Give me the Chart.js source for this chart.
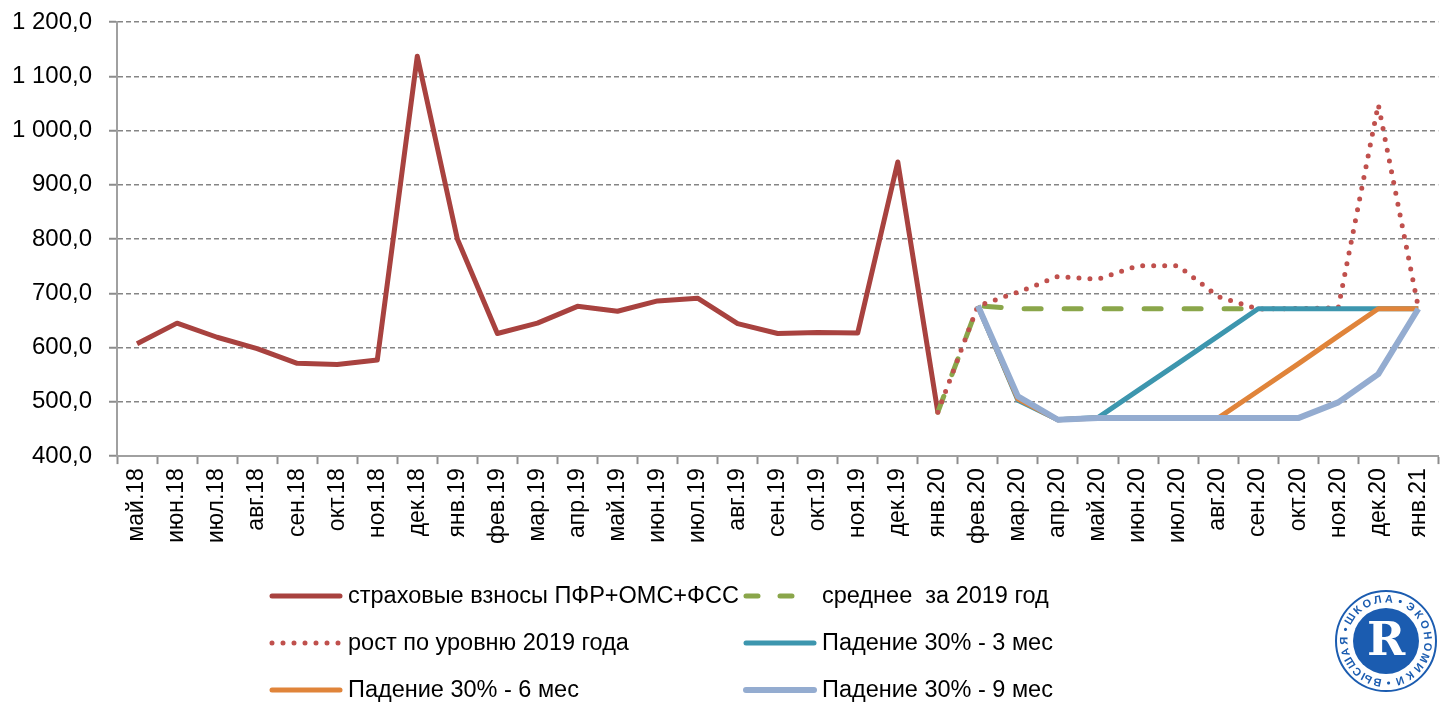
<!DOCTYPE html>
<html>
<head>
<meta charset="utf-8">
<script src="https://cdn.jsdelivr.net/npm/chart.js@4.4.1/dist/chart.umd.min.js"></script>
<style>
  html, body { margin: 0; padding: 0; background: #fff; overflow: hidden; }
  #wrap { width: 1450px; height: 704px; }
</style>
</head>
<body>
<div id="wrap"><canvas id="myChart" width="1450" height="704"></canvas></div>
<script>
// months on the x axis
const months = ["май.18","июн.18","июл.18","авг.18","сен.18","окт.18","ноя.18","дек.18",
  "янв.19","фев.19","мар.19","апр.19","май.19","июн.19","июл.19","авг.19","сен.19","окт.19","ноя.19","дек.19",
  "янв.20","фев.20","мар.20","апр.20","май.20","июн.20","июл.20","авг.20","сен.20","окт.20","ноя.20","дек.20",
  "янв.21"];

const gap = n => Array(n).fill(null);

// страховые взносы, факт (май.18 - янв.20)
const factValues = [607, 645, 619, 598, 571, 569, 577, 1137, 800, 626, 645, 676, 667, 686, 691, 644, 626, 628, 627, 942, 481];
// среднее за 2019 год (янв.20 - сен.20)
const avgValues = [481, 677, 671.5, 671.5, 671.5, 671.5, 671.5, 671.5, 671.5];
// рост по уровню 2019 года (янв.20 - янв.21)
const growthValues = [481, 677, 702, 731, 726, 751, 751, 694, 671, 672, 673, 1048, 674];
// сценарии падения (фев.20 - янв.21)
const drop3Values = [677, 503, 467, 471, 521, 571, 621, 671.5, 671.5, 671.5, 671.5, 671.5];
const drop6Values = [677, 505, 467, 470, 470, 470, 470, 520, 570, 621, 671.5, 671.5];
const drop9Values = [677, 510, 467, 470, 470, 470, 470, 470, 470, 499, 551, 671.5];

const yTicks = [400, 500, 600, 700, 800, 900, 1000, 1100, 1200];

function fmt(v) {
  let s = v.toFixed(1).replace(".", ",");
  let [i, d] = s.split(",");
  i = i.replace(/\B(?=(\d{3})+(?!\d))/g, " ");
  return i + "," + d;
}

// legend drawn in two columns like the original
const legendPlugin = {
  id: "twoColLegend",
  afterDraw(chart) {
    const ctx = chart.ctx;
    const cols = [270, 744];
    const rows = [596, 643, 690];
    chart.data.datasets.forEach((ds, i) => {
      const x = cols[i % 2], y = rows[Math.floor(i / 2)];
      ctx.save();
      ctx.strokeStyle = ds.borderColor;
      ctx.lineWidth = ds.borderWidth;
      ctx.lineCap = "round";
      ctx.setLineDash(ds.legendDash || []);
      ctx.beginPath();
      ctx.moveTo(x + 2, y);
      ctx.lineTo(x + 70, y);
      ctx.stroke();
      ctx.setLineDash([]);
      ctx.fillStyle = "#000";
      ctx.font = "23.5px 'Liberation Sans', Arial, sans-serif";
      ctx.textBaseline = "middle";
      ctx.fillText(ds.label, x + 78, y + 1);
      ctx.restore();
    });

    // HSE logo (approximation)
    const cx = 1386, cy = 641, r = 50;
    ctx.save();
    ctx.strokeStyle = "#1b5cb0";
    ctx.lineWidth = 2;
    ctx.beginPath(); ctx.arc(cx, cy, r, 0, Math.PI * 2); ctx.stroke();
    ctx.fillStyle = "#1b5cb0";
    ctx.beginPath(); ctx.arc(cx, cy, 33, 0, Math.PI * 2); ctx.fill();
    ctx.font = "bold 11px 'Liberation Sans', Arial, sans-serif";
    ctx.textAlign = "center";
    ctx.textBaseline = "middle";
    const txt = "ВЫСШАЯ•ШКОЛА•ЭКОНОМИКИ•";
    const chars = Array.from(txt);
    const start = 102 * Math.PI / 180;
    const step = (Math.PI * 2) / chars.length;
    chars.forEach((c, k) => {
      const a = start + k * step;
      ctx.save();
      ctx.translate(cx + Math.cos(a) * 41.5, cy + Math.sin(a) * 41.5);
      ctx.rotate(a + Math.PI / 2);
      ctx.fillText(c, 0, 0);
      ctx.restore();
    });
    ctx.fillStyle = "#fff";
    ctx.font = "bold 46px 'DejaVu Serif', serif";
    ctx.fillText("R", cx, cy + 2);
    ctx.restore();
  }
};

const myChart = document.getElementById("myChart").getContext("2d");
const insuranceChart = new Chart(myChart, {
  type: "line",
  data: {
    labels: months,
    datasets: [
      {
        label: "страховые взносы ПФР+ОМС+ФСС",
        data: factValues.concat(gap(12)),
        borderColor: "#a8423f",
        borderWidth: 5,
        order: 6
      },
      {
        label: "среднее  за 2019 год",
        data: gap(20).concat(avgValues, gap(4)),
        borderColor: "#8aa64a",
        borderWidth: 5,
        borderDash: [17, 23],
        borderCapStyle: "round",
        legendDash: [12, 22],
        order: 5
      },
      {
        label: "рост по уровню 2019 года",
        data: gap(20).concat(growthValues),
        borderColor: "#c0504d",
        borderWidth: 5,
        borderDash: [0, 11],
        borderCapStyle: "round",
        legendDash: [0, 11],
        order: 4
      },
      {
        label: "Падение 30% - 3 мес",
        data: gap(21).concat(drop3Values),
        borderColor: "#3d96ae",
        borderWidth: 5,
        order: 3
      },
      {
        label: "Падение 30% - 6 мес",
        data: gap(21).concat(drop6Values),
        borderColor: "#e0843a",
        borderWidth: 5,
        order: 2
      },
      {
        label: "Падение 30% - 9 мес",
        data: gap(21).concat(drop9Values),
        borderColor: "#94acd0",
        borderWidth: 6,
        order: 1
      }
    ]
  },
  options: {
    responsive: false,
    animation: false,
    devicePixelRatio: 1,
    layout: { padding: { left: 12, top: 22, right: 6, bottom: 156 } },
    elements: {
      point: { radius: 0, hoverRadius: 0 },
      line: { tension: 0, borderJoinStyle: "round", fill: false }
    },
    plugins: {
      legend: { display: false },
      title: { display: false },
      tooltip: { enabled: false }
    },
    scales: {
      x: {
        offset: true,
        grid: {
          offset: true,
          drawOnChartArea: false,
          drawTicks: true,
          tickLength: 8,
          tickColor: "#8c8c8c",
          tickWidth: 2
        },
        border: { display: true, color: "#a0a0a0", width: 2 },
        ticks: {
          autoSkip: false,
          maxRotation: 90,
          minRotation: 90,
          color: "#000",
          padding: 4,
          font: { family: "'Liberation Sans', Arial, sans-serif", size: 23 }
        }
      },
      y: {
        min: 400,
        max: 1200,
        afterBuildTicks: axis => { axis.ticks = yTicks.map(v => ({ value: v })); },
        afterFit: axis => {
          axis.width = 105;
          axis.paddingTop = 0;
          axis.paddingBottom = 0;
        },
        grid: {
          color: c => (c.tick && c.tick.value === 400 ? "rgba(0,0,0,0)" : "#858585"),
          lineWidth: 1.5,
          drawTicks: true,
          tickLength: 8,
          tickColor: "#8c8c8c",
          tickWidth: 2,
          tickBorderDash: []
        },
        border: { display: true, color: "#a0a0a0", width: 2, dash: [5, 3] },
        ticks: {
          color: "#000",
          padding: 17,
          font: { family: "'Liberation Sans', Arial, sans-serif", size: 24 },
          callback: v => fmt(v)
        }
      }
    }
  },
  plugins: [legendPlugin]
});
</script>
</body>
</html>
